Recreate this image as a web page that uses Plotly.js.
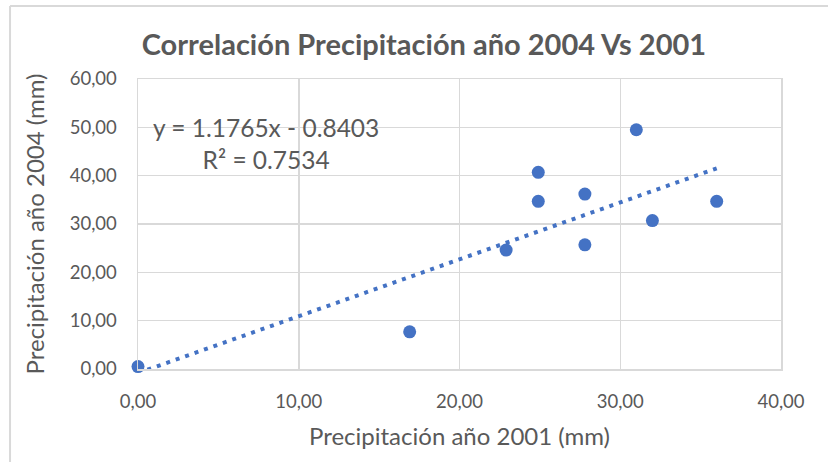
<!DOCTYPE html>
<html>
<head>
<meta charset="utf-8">
<script src="https://cdn.plot.ly/plotly-3.0.1.min.js"></script>
<style>html,body{margin:0;padding:0;background:#fff;}#chart{width:828px;height:462px;}</style>
</head>
<body>
<div id="chart"></div>
<script>
// Data
const precip2001 = [0.0, 16.9, 22.9, 24.9, 24.9, 27.8, 27.8, 31.0, 32.0, 36.0];
const precip2004 = [0.5, 7.7, 24.6, 40.7, 34.7, 36.2, 25.7, 49.5, 30.7, 34.7];
const slope = 1.1765;
const intercept = -0.8403;
const rSquared = 0.7534;
const xTicks = [0, 10, 20, 30, 40];
const yTicks = [0, 10, 20, 30, 40, 50, 60];

const blue = '#4472C4';
const grey = '#595959';
const grid = '#D9D9D9';
const FONT = 'Lato, "Liberation Sans", Arial, sans-serif';

const xMin = Math.min(...precip2001), xMax = Math.max(...precip2001);
const trendX = [xMin, xMax];
const trendY = trendX.map(v => slope * v + intercept);

const traces = [
  {
    x: trendX, y: trendY, type: 'scatter', mode: 'lines',
    line: {color: blue, width: 4, dash: '4px,6px'},
    hoverinfo: 'skip', showlegend: false, cliponaxis: false
  },
  {
    x: precip2001, y: precip2004, type: 'scatter', mode: 'markers',
    marker: {color: blue, size: 13, line: {width: 0}},
    showlegend: false, cliponaxis: false
  }
];

const layout = {
  width: 828, height: 462,
  margin: {l: 138, r: 47, t: 79, b: 93},
  paper_bgcolor: '#fff', plot_bgcolor: '#fff',
  separators: ',.',
  font: {family: FONT, color: grey},
  title: {
    text: '<b>Correlación Precipitación año 2004 Vs 2001</b>',
    font: {family: FONT, size: 29, color: grey},
    x: 0.512, xref: 'container', xanchor: 'center', y: 0.902, yref: 'container', yanchor: 'middle'
  },
  xaxis: {
    range: [0, 40], tickvals: xTicks, tickformat: '.2f',
    showgrid: true, gridcolor: grid, gridwidth: 1.5,
    showline: true, linecolor: grid, linewidth: 1.5, mirror: true,
    zeroline: false, ticks: '', ticklabelstandoff: 15,
    tickfont: {family: FONT, size: 18.5, color: grey},
    title: {text: 'Precipitación año 2001 (mm)', font: {family: FONT, size: 24, color: grey}, standoff: 17}
  },
  yaxis: {
    range: [0, 60], tickvals: yTicks, tickformat: '.2f',
    showgrid: true, gridcolor: grid, gridwidth: 1.5,
    showline: true, linecolor: grid, linewidth: 1.5, mirror: true,
    zeroline: false, ticks: '', ticklabelstandoff: 16,
    tickfont: {family: FONT, size: 18.5, color: grey},
    title: {text: 'Precipitación año 2004 (mm)', font: {family: FONT, size: 24, color: grey}, standoff: 18}
  },
  annotations: [
    {
      xref: 'paper', yref: 'paper', x: 0.199, y: 0.779, xanchor: 'center', yanchor: 'middle',
      text: 'y = ' + slope.toFixed(4) + 'x - ' + Math.abs(intercept).toFixed(4) + '<br>R² = ' + rSquared.toFixed(4),
      showarrow: false, align: 'center',
      font: {family: FONT, size: 24.5, color: grey}
    }
  ],
  shapes: [
    {type: 'line', xref: 'paper', yref: 'paper', x0: -0.199, x1: 1.1, y0: 1.252, y1: 1.252, line: {color: grid, width: 2}},
    {type: 'line', xref: 'paper', yref: 'paper', x0: -0.199, x1: -0.199, y0: 1.252, y1: -0.35, line: {color: grid, width: 2}}
  ]
};

Plotly.newPlot('chart', traces, layout, {staticPlot: true, displayModeBar: false});
</script>
</body>
</html>
